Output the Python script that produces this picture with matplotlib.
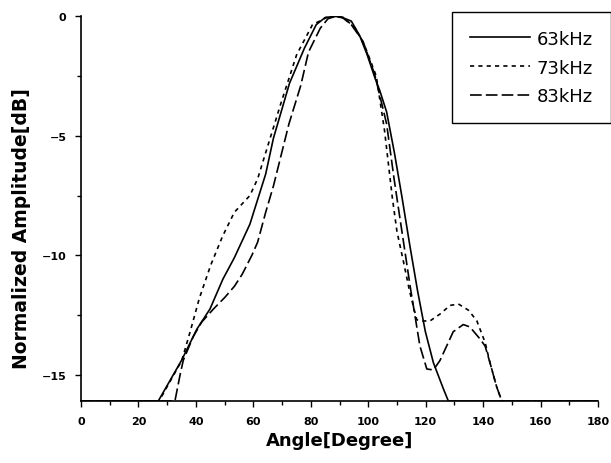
import matplotlib.pyplot as plt
from matplotlib.ticker import MultipleLocator

plt.rcParams["font.family"] = ["DejaVu Sans"]

# 63 kHz
angle_63 = [0, 26.9, 35, 40.3, 44.9, 49.4, 53.4, 58.8, 64.3, 67, 72.6, 77.8, 81.9,
            85, 88.5, 91.4, 94.1, 97, 99.6, 102.4, 104, 106.4, 109.1, 111.8, 114.5,
            117.2, 119.9, 122.7, 126.2, 127.9, 180]
amp_63 = [-16.1, -16.1, -14.4, -13.1, -12.25, -11.0, -10.1, -8.7, -6.6, -5.1,
          -2.8, -1.33, -0.35, -0.05, 0, -0.07, -0.2, -0.8, -1.6, -2.6, -3.1, -4.0,
          -5.7, -7.6, -9.6, -11.5, -13.2, -14.5, -15.6, -16.1, -16.1]

# 73 kHz
angle_73 = [0, 27.2, 35.1, 38, 41.2, 45.2, 49.3, 53.4, 58.8, 61.5, 65.6, 69.7, 75.1,
            80.6, 86, 89.5, 91.4, 95.5, 99, 102.8, 105.7, 108.4, 110, 112.5, 114.4,
            116.9, 118.6, 121.5, 125, 128.5, 131.4, 134.9, 137.8, 140.7, 142.4,
            144.7, 146.5, 180]
amp_73 = [-16.1, -16.1, -14.4, -13.2, -11.8, -10.4, -9.2, -8.2, -7.5, -6.8, -5.2,
          -3.6, -1.6, -0.35, -0.02, 0, -0.05, -0.5, -1.3, -2.5, -4.8, -7.6, -9.0,
          -10.4, -11.5, -12.7, -12.75, -12.75, -12.46, -12.1, -12.04, -12.3, -12.74,
          -13.65, -14.5, -15.5, -16.1, -16.1]

# 83 kHz
angle_83 = [0, 32.7, 34.5, 35.6, 39.1, 42, 46.1, 50.1, 53.4, 56.1, 59.5, 61.5, 64.3,
            67, 69.7, 72.4, 76.5, 79.2, 83.3, 86, 88.7, 91, 94.1, 98.2, 102.3, 106.4,
            109, 111.1, 114.6, 118, 120.4, 122.7, 125, 129.6, 133.1, 135.4, 138.9,
            140.7, 142.4, 144.7, 146.5, 180]
amp_83 = [-16.1, -16.1, -15.0, -14.4, -13.4, -12.8, -12.25, -11.76, -11.3, -10.8, -10.0,
          -9.45, -8.2, -7.1, -5.8, -4.5, -2.9, -1.5, -0.5, -0.1, 0, -0.05, -0.35,
          -1.05, -2.45, -4.5, -6.8, -8.5, -11.3, -13.8, -14.76, -14.8, -14.4, -13.2,
          -12.9, -13.0, -13.5, -13.8, -14.5, -15.5, -16.1, -16.1]

x_ticks = list(range(0, 181, 20))
y_ticks = [0, -5, -10, -15]

fig = plt.figure(figsize=(6.11, 4.64), dpi=100)
ax = fig.add_axes([0.1326, 0.1336, 0.8461, 0.8291])

ax.plot(angle_63, amp_63, color="black", lw=1.2, linestyle="-", label="63kHz")
ax.plot(angle_73, amp_73, color="black", lw=1.2, linestyle=(0, (2.5, 2.5)), label="73kHz")
ax.plot(angle_83, amp_83, color="black", lw=1.2, linestyle=(0, (7, 2.5)), label="83kHz")

ax.set_xlim(0, 180)
ax.set_ylim(-16.1, 0)
ax.set_xticks(x_ticks)
ax.set_yticks(y_ticks)
ax.xaxis.set_minor_locator(MultipleLocator(10))
ax.yaxis.set_minor_locator(MultipleLocator(2.5))
ax.tick_params(which="major", direction="out", length=4.5, width=1.0,
               labelsize=8, pad=6)
ax.tick_params(which="minor", direction="out", length=3, width=1.0)
for lbl in ax.get_xticklabels() + ax.get_yticklabels():
    lbl.set_fontweight("bold")

for side in ("top", "right"):
    ax.spines[side].set_visible(False)
for side in ("left", "bottom"):
    ax.spines[side].set_linewidth(1.2)

ax.set_xlabel("Angle[Degree]", fontsize=13, fontweight="bold", labelpad=4)
ax.set_ylabel("Normalized Amplitude[dB]", fontsize=13.5, fontweight="bold")
ax.yaxis.set_label_coords(-0.097, 0.45)

leg = ax.legend(loc="upper left", bbox_to_anchor=(0.7398, 0.9726),
                bbox_transform=fig.transFigure,
                prop={"family": "DejaVu Sans", "size": 13},
                handlelength=3.3, handletextpad=0.4, borderpad=1.0,
                labelspacing=0.6, borderaxespad=0, fancybox=False,
                edgecolor="black", framealpha=1)
leg.get_frame().set_linewidth(1.0)

fig.savefig("out.png", dpi=100)
